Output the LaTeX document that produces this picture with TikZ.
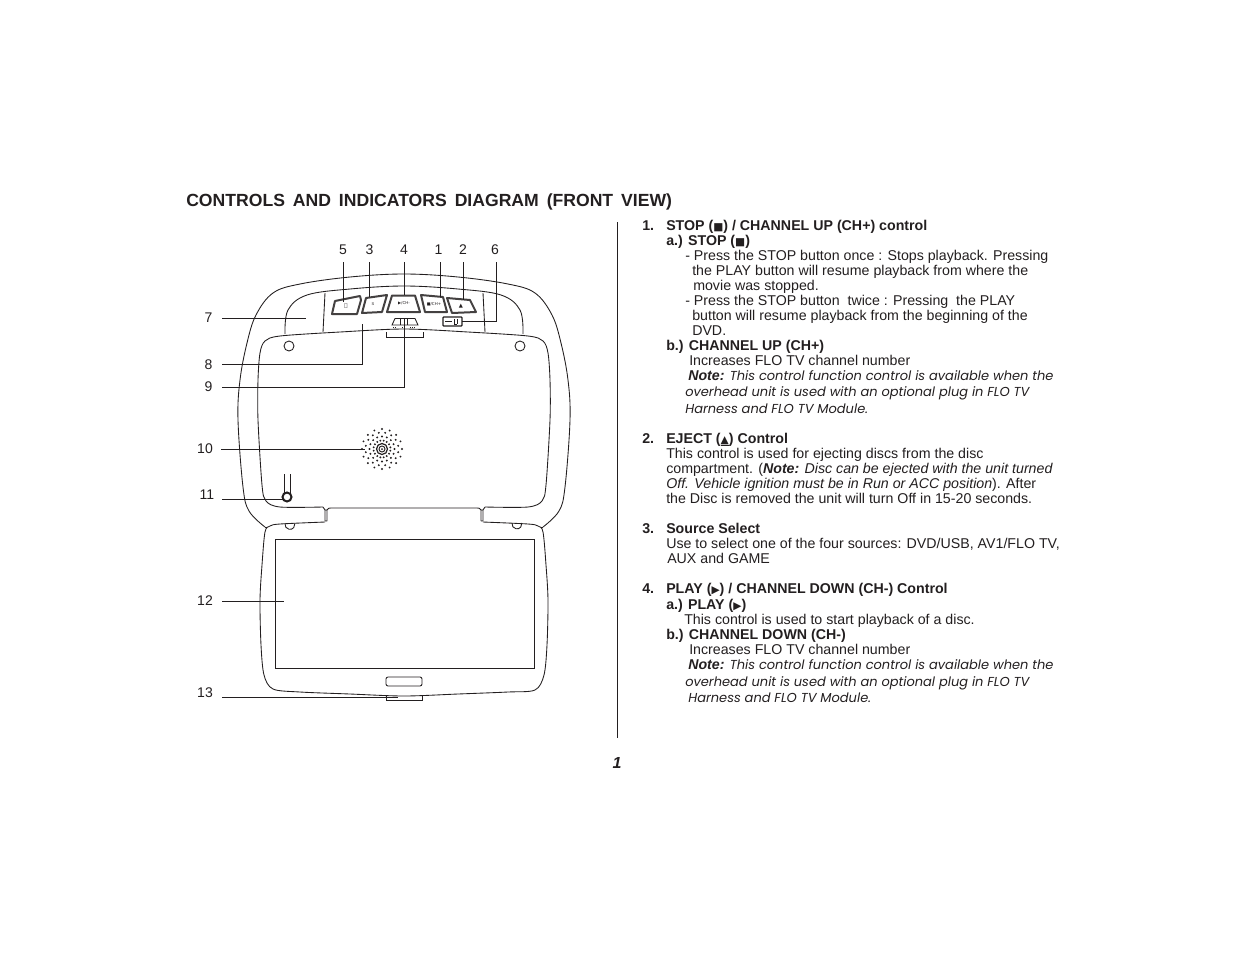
\documentclass[tikz,border=0pt]{standalone}
\usepackage{fontspec}
\setmainfont{Liberation Sans}
\newfontfamily\symf{DejaVu Sans}
\newfontfamily\notef{Poppins}
\definecolor{ink}{RGB}{35,31,32}
\tikzset{
  txt/.style={anchor=base west,inner sep=0pt,text=ink,font=\fontsize{10.65pt}{12pt}\selectfont},
  num/.style={anchor=center,inner sep=0pt,text=ink,font=\fontsize{10.5pt}{12pt}\selectfont},
  ln/.style={draw=ink,line width=0.65pt},
  lead/.style={draw=ink,line width=0.65pt},
  btn/.style={draw=ink!85,line width=1.5pt,fill=white,line join=round},
  tiny/.style={inner sep=0pt,text=ink,font=\fontsize{3pt}{3pt}\selectfont}
}
\newcommand{\tl}[4]{\node[txt] (#1) at (#2,#3) {#4};}
\newcommand{\nb}[1]{\notef\itshape\fontsize{9.75pt}{12pt}\selectfont #1}
\newcommand{\sq}{{\symf\fontsize{8pt}{10pt}\selectfont ■}}
\newcommand{\tri}{{\symf\fontsize{8pt}{10pt}\selectfont ▶}}
\newcommand{\ej}{\underline{\smash{\symf\fontsize{8pt}{10pt}\selectfont ▲}}}
\begin{document}
\begin{tikzpicture}[x=0.75pt,y=-0.75pt]
\useasboundingbox (0,0) rectangle (1235,954);
\fill[white] (0,0) rectangle (1235,954);
% title
\node[txt,font=\fontsize{13.2pt}{15pt}\selectfont\bfseries] (title) at (186,206) {CONTROLS\hspace{0.45em}AND\hspace{0.45em}INDICATORS\hspace{0.45em}DIAGRAM\hspace{0.45em}(FRONT\hspace{0.45em}VIEW)};
% divider
\draw[ln] (617,222) -- (617,738);
\node[inner sep=0pt,text=ink,font=\fontsize{12pt}{14pt}\selectfont\rmfamily\bfseries\itshape] (page) at (617,763) {1};

% housing
\draw[ln] plot[smooth,tension=.6] coordinates {(265,527)(249,511)(243,487)(238,420)(240,380)(247,343)(256,315)(273,293)(300,284)(350,277)(404,274)(458,277)(508,284)(535,293)(552,315)(561,343)(568,380)(570,420)(565,487)(559,511)(543,527)};
% upper inner arc
\draw[ln] plot[smooth,tension=.6] coordinates {(285,334)(288,310)(307,295)(350,289)(404,286)(458,289)(501,295)(520,310)(523,334)};
\draw[ln] (325,293) -- (323,332) (483,293) -- (485,332);
% recess
\draw[ln] plot[smooth,tension=.5] coordinates {(323,507)(280,507)(266,501)(262,485)(258,420)(258,380)(260,353)(265,341)(280,336)(340,332)(404,329)(468,332)(528,336)(543,341)(548,353)(550,380)(550,420)(546,485)(542,501)(528,507)(485,507)};
% hinge
\draw[ln] (323,507) -- (325,510) -- (325,521) (327,510) -- (327,521) (325,521) -- (327,521) (325,510) -- (327,510);
\draw[ln] (485,507) -- (483,510) -- (483,521) (481,510) -- (481,521) (481,521) -- (483,521) (481,510) -- (483,510);
\draw[ln] (327,510) .. controls (328,508) and (329,508) .. (331,508) -- (477,508) .. controls (479,508) and (480,508) .. (481,510);
% screen surround
\draw[ln] plot[smooth,tension=.5] coordinates {(325,522)(280,524)(270,526)(265,532)(262,565)(260,600)(261,645)(264,675)(273,689)(300,692)(350,694)(404,696)(458,694)(508,692)(535,690)(544,675)(547,645)(548,600)(546,565)(543,532)(538,526)(528,524)(483,522)};
\draw[ln] (265,527) -- (267,527) (543,527) -- (541,527);
% half circles
\draw[ln] (285,523.5) arc[start angle=190,end angle=-10,radius=5];
\draw[ln] (512,523) arc[start angle=190,end angle=-10,radius=5];
% screen etc
\draw[ln] (275,539) rectangle (534,668);
\draw[ln,rounded corners=1.5pt] (386,677) rectangle (422,686);
\draw[ln] (386,696) -- (386,700) -- (422,700) -- (422,696);
\draw[ln] (386,332) -- (386,337) -- (423,337) -- (423,332);
% screws
\draw[ln] (289,346) circle[radius=5];
\draw[ln] (520,346) circle[radius=5];
% buttons
\draw[btn] (332,314) -- (335,301) -- (360,296) -- (361,300) -- (357,314) -- cycle;
\draw[btn] (362,313) -- (366,298) -- (387,295) -- (382,312) -- cycle;
\draw[btn] (387,312) -- (392,295.5) -- (415,295.5) -- (420,312) -- cycle;
\draw[btn] (421,295) -- (443,297) -- (447,312) -- (425,312) -- cycle;
\draw[btn] (447,298) -- (470,300) -- (476,312) -- (452,313) -- cycle;
\node[tiny,font=\symf\fontsize{4pt}{4pt}\selectfont] (b5) at (346,306) {⏻};
\node[tiny] (b3) at (373,304) {S};
\node[tiny] (b4) at (404,303) {\symf▶/CH-};
\node[tiny] (b1) at (434,304) {\symf■/CH+};
\node[tiny,font=\symf\fontsize{4pt}{4pt}\selectfont] (b2) at (461,306) {▲};
% source box (6)
\draw[ln,line width=0.9pt,rounded corners=0.6pt] (443,317) rectangle (462,326);
\draw[ink,line width=0.6pt] (445,321.5) -- (452,321.5) (454,319) -- (454,324) (457,319) -- (457,324) (454,324) -- (457,324);
% slider
\draw[ln] (392,325) -- (395,318.5) -- (415,318.5) -- (418,325) -- cycle;
\draw[ln] (400,318.5) -- (400,325) (404,318.5) -- (404,325) (407,318.5) -- (407,325);
\draw[ink,line width=0.5pt,densely dotted] (393,327) -- (397,327) (402,327) -- (406,327) (410,327) -- (416,327);
% speaker
\coordinate (spk) at (382,449);
\foreach \r/\n/\o in {20/16/0,16.5/16/11.25,12.5/16/0,8.5/16/11.25}{
  \pgfmathsetmacro{\st}{360/\n}
  \foreach \i in {1,...,\n}{
    \fill[ink] (spk) ++({\o+\i*\st}:{\r*0.75pt} and {\r*0.75pt}) circle[radius=0.8pt];
  }
}
\draw[ink,line width=0.9pt] (spk) circle[radius=5.5];
\draw[ink,line width=0.7pt] (spk) circle[radius=3];
\fill[ink] (spk) circle[radius=1];
% knob
\draw[ln] (284,474) -- (284,493) (290,474) -- (290,493);
\draw[ink,line width=1.5pt,fill=white] (287,497) circle[radius=4.5];

% labels
\node[num] (n5) at (343,250) {5};
\node[num] (n3) at (369.5,250) {3};
\node[num] (n4) at (404,250) {4};
\node[num] (n1) at (438.5,250) {1};
\node[num] (n2) at (463,250) {2};
\node[num] (n6) at (495,250) {6};
\node[num] (n7) at (208.5,318) {7};
\node[num] (n8) at (208.5,365) {8};
\node[num] (n9) at (208.5,386.5) {9};
\node[num] (n10) at (205,448.5) {10};
\node[num] (n11) at (207,494.5) {11};
\node[num] (n12) at (205,601) {12};
\node[num] (n13) at (205,693) {13};
% leader ends
\coordinate (a5) at (343,262); \coordinate (e5) at (343,302);
\coordinate (a3) at (369,262); \coordinate (e3) at (369,297);
\coordinate (a4) at (404,262); \coordinate (e4) at (404,295);
\coordinate (a1) at (440,262); \coordinate (e1) at (440,297);
\coordinate (a2) at (463,262); \coordinate (e2) at (463,300);
\coordinate (a6) at (496,262); \coordinate (c6) at (496,321); \coordinate (e6) at (462,321);
\coordinate (a7) at (222,318); \coordinate (e7) at (306,318);
\coordinate (a8) at (222,364.5); \coordinate (c8) at (362,364.5); \coordinate (e8) at (362,324);
\coordinate (a9) at (222,387); \coordinate (c9) at (404,387); \coordinate (e9) at (404,325);
\coordinate (a10) at (221,449); \coordinate (e10) at (365,449);
\coordinate (a11) at (222,499); \coordinate (e11) at (283,499);
\coordinate (a12) at (222,601); \coordinate (e12) at (284,601);
\coordinate (a13) at (222,697.5); \coordinate (e13) at (398,697.5);
\draw[lead] (a5) -- (e5);
\draw[lead] (a3) -- (e3);
\draw[lead] (a4) -- (e4);
\draw[lead] (a1) -- (e1);
\draw[lead] (a2) -- (e2);
\draw[lead] (a6) -- (c6) -- (e6);
\draw[lead] (a7) -- (e7);
\draw[lead] (a8) -- (c8) -- (e8);
\draw[lead] (a9) -- (c9) -- (e9);
\draw[lead] (a10) -- (e10);
\draw[lead] (a11) -- (e11);
\draw[lead] (a12) -- (e12);
\draw[lead] (a13) -- (e13);

% text column
\tl{t1}{642}{230}{\bfseries 1.}
\tl{t1b}{666}{230}{\bfseries STOP (\sq) / CHANNEL UP (CH+) control}
\tl{t2}{666}{245}{\bfseries a.) STOP (\sq)}
\tl{t3}{685}{260}{- Press the STOP button once : Stops playback. Pressing}
\tl{t4}{692}{275}{the PLAY button will resume playback from where the}
\tl{t5}{693}{290}{movie was stopped.}
\tl{t6}{685}{305}{- Press the STOP button\ \ twice : Pressing\ \ the PLAY}
\tl{t7}{692}{320}{button will resume playback from the beginning of the}
\tl{t8}{692}{335}{DVD.}
\tl{t9}{666}{350}{\bfseries b.) CHANNEL UP (CH+)}
\tl{t10}{689}{365}{Increases FLO TV channel number}
\tl{t11}{688}{380}{{\bfseries\itshape Note:} \nb{This control function control is available when the}}
\tl{t12}{685}{396}{\nb{overhead unit is used with an optional plug in FLO TV}}
\tl{t13}{685}{413}{\nb{Harness and FLO TV Module.}}
\tl{t14}{642}{443}{\bfseries 2.}
\tl{t14b}{666}{443}{\bfseries EJECT (\ej) Control}
\tl{t15}{666}{458}{This control is used for ejecting discs from the disc}
\tl{t16}{666}{473}{compartment. ({\bfseries\itshape Note:} {\itshape Disc can be ejected with the unit turned}}
\tl{t17}{666}{488}{{\itshape Off. Vehicle ignition must be in Run or ACC position}). After}
\tl{t18}{666}{503}{the Disc is removed the unit will turn Off in 15-20 seconds.}
\tl{t19}{642}{533}{\bfseries 3.}
\tl{t19b}{666}{533}{\bfseries Source Select}
\tl{t20}{666}{548}{Use to select one of the four sources: DVD/USB, AV1/FLO TV,}
\tl{t21}{667}{563}{AUX and GAME}
\tl{t22}{642}{593}{\bfseries 4.}
\tl{t22b}{666}{593}{\bfseries PLAY (\tri) / CHANNEL DOWN (CH-) Control}
\tl{t23}{666}{609}{\bfseries a.) PLAY (\tri)}
\tl{t24}{684}{624}{This control is used to start playback of a disc.}
\tl{t25}{666}{639}{\bfseries b.) CHANNEL DOWN (CH-)}
\tl{t26}{689}{654}{Increases FLO TV channel number}
\tl{t27}{688}{669}{{\bfseries\itshape Note:} \nb{This control function control is available when the}}
\tl{t28}{685}{686}{\nb{overhead unit is used with an optional plug in FLO TV}}
\tl{t29}{688}{702}{\nb{Harness and FLO TV Module.}}
\end{tikzpicture}
\end{document}
